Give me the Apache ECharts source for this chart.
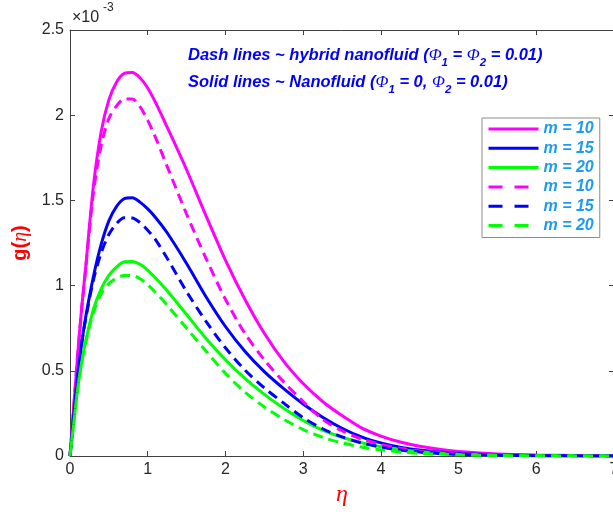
<!DOCTYPE html>
<html>
<head>
<meta charset="utf-8">
<script src="https://cdn.jsdelivr.net/npm/echarts@6/dist/echarts.min.js"></script>
<style>
html,body{margin:0;padding:0;background:#fff;overflow:hidden;}
#c{width:613px;height:518px;}
</style>
</head>
<body>
<div id="c"></div>
<script>
// eta values (x)
var eta = [0,0.05,0.1,0.15,0.2,0.3,0.4,0.5,0.6,0.7,0.8,0.9,1.0,1.1,1.25,1.5,1.75,2.0,2.25,2.5,2.75,3.0,3.25,3.5,3.75,4.0,4.25,4.5,4.75,5.0,5.5,6.0,6.5,7.0];
// g(eta) values in units of 1e-3
var m10Nano   = [0,0.3,0.6,0.87,1.1,1.58,1.90,2.09,2.195,2.245,2.25,2.22,2.16,2.075,1.93,1.68,1.41,1.15,0.92,0.72,0.555,0.425,0.32,0.237,0.165,0.117,0.082,0.057,0.039,0.027,0.012,0.0055,0.0025,0.001];
var m15Nano   = [0,0.25,0.48,0.66,0.81,1.05,1.24,1.38,1.465,1.51,1.515,1.49,1.45,1.40,1.31,1.13,0.935,0.76,0.615,0.495,0.395,0.305,0.228,0.163,0.112,0.077,0.052,0.035,0.023,0.015,0.0065,0.0028,0.0012,0.0005];
var m20Nano   = [0,0.2,0.4,0.55,0.67,0.86,0.98,1.06,1.11,1.14,1.142,1.125,1.09,1.045,0.97,0.83,0.69,0.565,0.455,0.362,0.28,0.208,0.152,0.11,0.078,0.054,0.037,0.025,0.017,0.011,0.005,0.002,0.0009,0.0004];
var m10Hybrid = [0,0.3,0.6,0.86,1.09,1.54,1.82,1.98,2.055,2.095,2.095,2.05,1.97,1.87,1.70,1.42,1.16,0.92,0.72,0.565,0.435,0.32,0.215,0.148,0.1,0.068,0.045,0.03,0.02,0.013,0.0055,0.0024,0.001,0.0005];
var m15Hybrid = [0,0.25,0.48,0.66,0.8,1.03,1.19,1.3,1.365,1.398,1.397,1.37,1.325,1.27,1.16,0.965,0.79,0.635,0.505,0.4,0.31,0.225,0.16,0.112,0.077,0.052,0.035,0.023,0.015,0.01,0.0042,0.0018,0.0008,0.0003];
var m20Hybrid = [0,0.2,0.4,0.55,0.665,0.84,0.95,1.01,1.045,1.06,1.06,1.04,1.005,0.96,0.885,0.75,0.615,0.485,0.375,0.288,0.215,0.155,0.11,0.077,0.053,0.036,0.024,0.016,0.011,0.007,0.003,0.0012,0.0005,0.0002];
var seriesNames = ['m = 10','m = 15','m = 20','m = 10 ','m = 15 ','m = 20 '];
var xTicks = [0,1,2,3,4,5,6,7];
var yTicks = [0,0.5,1,1.5,2,2.5];

var colors = ['#FF00FF','#0000FF','#00FF00','#FF00FF','#0000FF','#00FF00'];
var allData = [m10Nano,m15Nano,m20Nano,m10Hybrid,m15Hybrid,m20Hybrid];
var axisColor = '#404040';
var FONT = 'Liberation Sans';

function pairs(v){ return eta.map(function(x,i){ return [x, v[i]]; }); }

var series = allData.map(function(v,i){
  var dashed = i >= 3;
  return {
    name: seriesNames[i],
    type: 'line',
    data: pairs(v),
    symbol: 'none',
    smooth: 0.3,
    z: dashed ? 3 : 2,
    lineStyle: { color: colors[i], width: 3, type: dashed ? [10,6] : 'solid' },
    itemStyle: { color: colors[i] }
  };
});

function xAxisDef(pos, showLabel){
  return {
    type:'value', min:xTicks[0], max:xTicks[xTicks.length-1], interval:1, position:pos,
    axisLine:{show:true, onZero:false, lineStyle:{color:axisColor, width:1}},
    axisTick:{show:true, inside:true, length:5, lineStyle:{color:axisColor}},
    axisLabel:{show:showLabel, color:'#262626', fontSize:16, fontFamily:FONT, margin:6},
    splitLine:{show:false}
  };
}
function yAxisDef(pos, showLabel){
  return {
    type:'value', min:yTicks[0], max:yTicks[yTicks.length-1], interval:0.5, position:pos,
    axisLine:{show:true, onZero:false, lineStyle:{color:axisColor, width:1}},
    axisTick:{show:true, inside:true, length:5, lineStyle:{color:axisColor}},
    axisLabel:{show:showLabel, color:'#262626', fontSize:16, fontFamily:FONT, margin:6},
    splitLine:{show:false}
  };
}
var xb = xAxisDef('bottom', true);
xb.name = 'η';
xb.nameLocation = 'middle';
xb.nameGap = 27;
xb.nameTextStyle = {color:'#FF0000', fontSize:24, fontStyle:'italic', fontFamily:'Liberation Serif'};
var xt = xAxisDef('top', false);
var yl = yAxisDef('left', true);
yl.name = '{g|g(}{e|η}{g|)}';
yl.nameLocation = 'middle';
yl.nameGap = 34;
yl.nameRotate = 90;
yl.nameTextStyle = {rich:{
  g:{color:'#FF0000', fontSize:20, fontWeight:'bold', fontFamily:FONT},
  e:{color:'#FF0000', fontSize:20, fontStyle:'italic', fontFamily:'Liberation Serif'}
}};
var yr = yAxisDef('right', false);

var legendData = seriesNames.map(function(n,i){
  var d = {name:n, lineStyle:{width:3}};
  if (i >= 3) d.lineStyle.type = [14,12];
  return d;
});

var subRich = function(){
  return {
    a:{fontSize:16.5, fill:'#0000FF', fontWeight:'bold', fontStyle:'italic', fontFamily:FONT, lineHeight:17, verticalAlign:'top'},
    p:{fontSize:17, fill:'#0000FF', fontStyle:'italic', fontFamily:'Liberation Serif', lineHeight:17, verticalAlign:'top'},
    s:{fontSize:11.5, fill:'#0000FF', fontWeight:'bold', fontStyle:'italic', fontFamily:FONT, lineHeight:22, verticalAlign:'bottom'}
  };
};

var chart = echarts.init(document.getElementById('c'), null, {renderer:'canvas'});
chart.setOption({
  animation:false,
  backgroundColor:'#ffffff',
  grid:{left:70, top:30, right:-1, bottom:62, containLabel:false, outerBoundsMode:'none'},
  xAxis:[xb, xt],
  yAxis:[yl, yr],
  legend:{
    orient:'vertical', left:482, top:118,
    data:legendData,
    formatter:function(n){ return n.trim(); },
    itemWidth:50, itemHeight:14, itemGap:3.3,
    padding:[3,6,4,5],
    backgroundColor:'#ffffff', borderColor:'#8c8c8c', borderWidth:1,
    selectedMode:false,
    itemStyle:{opacity:0},
    textStyle:{color:'#1E9BF0', fontSize:16, fontWeight:'bold', fontStyle:'italic', fontFamily:FONT}
  },
  graphic:[
    {type:'text', left:72, top:10, style:{text:'×10', fontSize:16, fill:'#262626', fontFamily:FONT}},
    {type:'text', left:103, top:2, style:{text:'-3', fontSize:12, fill:'#262626', fontFamily:FONT}},
    {type:'text', left:188, top:47, style:{
      text:'{a|Dash lines ~ hybrid nanofluid (}{p|Φ}{s|1}{a| = }{p|Φ}{s|2}{a| = 0.01)}',
      rich:subRich()
    }},
    {type:'text', left:188, top:74, style:{
      text:'{a|Solid lines ~ Nanofluid (}{p|Φ}{s|1}{a| = 0, }{p|Φ}{s|2}{a| = 0.01)}',
      rich:subRich()
    }}
  ],
  series:series
});
</script>
</body>
</html>
